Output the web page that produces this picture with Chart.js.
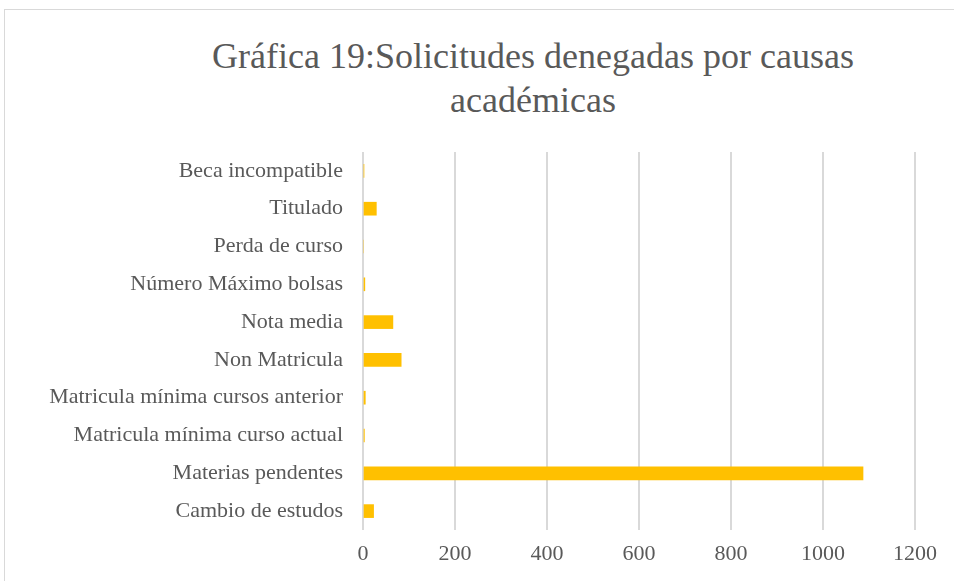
<!DOCTYPE html>
<html>
<head>
<meta charset="utf-8">
<script src="https://cdn.jsdelivr.net/npm/chart.js@4"></script>
<style>
  html, body { margin: 0; padding: 0; background: #fff; overflow: hidden; }
  #wrap { position: relative; width: 954px; height: 581px; }
  #frame { position: absolute; left: 4px; top: 9px; width: 1100px; height: 700px; border: 1px solid #d9d9d9; box-sizing: border-box; }
  #title { position: absolute; left: 183px; width: 700px; top: 34px; text-align: center;
    font-family: "Liberation Serif", serif; font-size: 36px; line-height: 44px; color: #595959; }
  canvas { position: absolute; left: 0; top: 0; }
</style>
</head>
<body>
<div id="wrap">
  <div id="frame"></div>
  <div id="title">Gráfica 19:Solicitudes denegadas por causas<br>académicas</div>
  <canvas id="chart" width="954" height="581"></canvas>
</div>
<script>
// categorías (de arriba a abajo)
const causas = [
  "Beca incompatible",
  "Titulado",
  "Perda de curso",
  "Número Máximo bolsas",
  "Nota media",
  "Non Matricula",
  "Matricula mínima cursos anterior",
  "Matricula mínima curso actual",
  "Materias pendentes",
  "Cambio de estudos"
];
const denegadas = [2, 29, 0, 4, 65, 83, 5, 3, 1087, 23];
const ejeMax = 1200;
const ejePaso = 200;

const gris = "#595959";
const fuente = { family: "'Liberation Serif', serif", size: 22 };

new Chart(document.getElementById("chart").getContext("2d"), {
  type: "bar",
  data: {
    labels: causas,
    datasets: [{ data: denegadas, backgroundColor: "#FFC000", barThickness: 13 }]
  },
  options: {
    indexAxis: "y",
    responsive: false,
    animation: false,
    layout: { padding: { left: 0, right: 39, top: 152, bottom: 0 } },
    plugins: { legend: { display: false }, tooltip: { enabled: false } },
    scales: {
      x: {
        min: 0, max: ejeMax,
        ticks: { stepSize: ejePaso, color: gris, font: fuente, padding: 11, callback: v => String(v) },
        grid: { color: "#d9d9d9", lineWidth: 2, drawTicks: false },
        border: { display: false },
        afterFit: s => { s.height = 51; }
      },
      y: {
        ticks: { color: gris, font: fuente, padding: 20 },
        grid: { display: false, drawTicks: false },
        border: { display: false },
        afterFit: s => { s.width = 363; }
      }
    }
  }
});
</script>
</body>
</html>
